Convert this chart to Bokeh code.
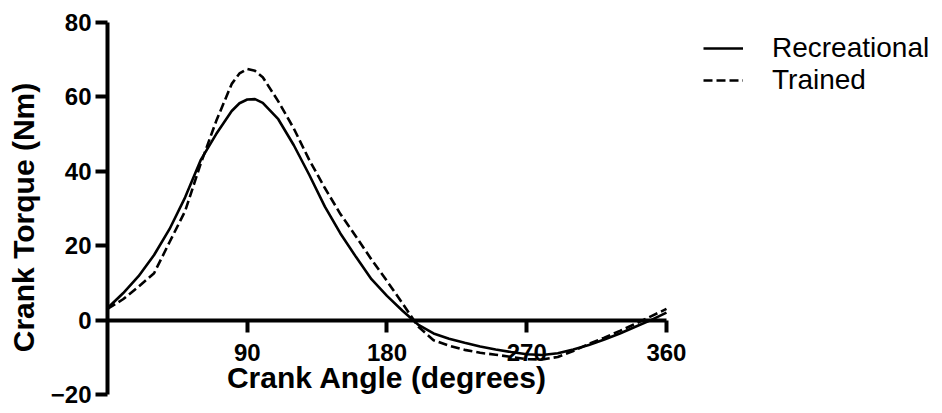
from bokeh.plotting import figure
from bokeh.models import FixedTicker, Legend, LegendItem, Range1d
from bokeh.embed import file_html
from bokeh.resources import INLINE

# ---- data ----
angle = [0, 10, 20, 30, 40, 50, 60, 70, 80, 85, 90, 95, 100, 110, 120, 130, 140, 150, 160, 170, 180,
         190, 200, 210, 220, 230, 240, 250, 260, 270, 280, 290, 300, 310, 320, 330, 340, 350, 360]
recreational = [3.2, 7.2, 11.8, 17.5, 24.5, 33.0, 43.0, 50.0, 56.2, 58.3, 59.3, 59.4, 58.4, 54.0, 47.0, 39.0,
                30.5, 23.3, 17.0, 11.0, 6.5, 2.5, -1.2, -3.6, -5.0, -6.1, -7.1, -7.9, -8.6, -9.2,
                -9.4, -8.9, -7.9, -6.7, -5.2, -3.6, -1.8, 0.0, 2.0]
trained = [3.0, 5.6, 9.0, 12.6, 21.0, 29.3, 42.0, 53.5, 63.5, 66.3, 67.5, 67.0, 65.3, 58.8, 51.5, 43.0,
           35.5, 28.5, 22.5, 16.3, 10.5, 4.5, -1.7, -5.4, -6.9, -8.0, -8.8, -9.3, -9.9, -10.5,
           -10.6, -9.9, -8.3, -6.4, -4.7, -2.9, -1.0, 1.0, 3.0]

x_ticks = [90, 180, 270, 360]
y_ticks = [-20, 0, 20, 40, 60, 80]
series_labels = ["Recreational", "Trained"]
x_title = "Crank Angle (degrees)"
y_title = "Crank Torque (Nm)"

FONT = "Liberation Sans"

p = figure(width=940, height=412, output_backend="svg", toolbar_location=None,
           x_range=Range1d(0, 536.5), y_range=Range1d(-24.84, 80),
           min_border_left=107, min_border_right=0, min_border_top=22, min_border_bottom=0)
p.grid.visible = False
p.outline_line_color = None
p.background_fill_color = "white"

r1 = p.line(angle, recreational, line_color="black", line_width=2.6)
r2 = p.line(angle, trained, line_color="black", line_width=2.6, line_dash="9 4")

# x axis crossing at y = 0
xa = p.xaxis[0]
xa.fixed_location = 0
xa.bounds = (0, 360)
xa.ticker = FixedTicker(ticks=x_ticks)
xa.axis_line_width = 4
xa.major_tick_line_width = 4
xa.major_tick_out = 12
xa.major_tick_in = 0
xa.minor_tick_line_color = None
xa.major_label_standoff = 12
xa.major_label_text_font = FONT
xa.major_label_text_font_style = "bold"
xa.major_label_text_font_size = "24px"
xa.major_label_text_color = "black"
xa.axis_label = x_title
xa.axis_label_text_font = FONT
xa.axis_label_text_font_style = "bold"
xa.axis_label_text_font_size = "30px"
xa.axis_label_text_color = "black"
xa.axis_label_standoff = -4

ya = p.yaxis[0]
ya.bounds = (-20, 80)
ya.ticker = FixedTicker(ticks=y_ticks)
ya.axis_line_width = 4
ya.major_tick_line_width = 4
ya.major_tick_out = 12
ya.major_tick_in = 0
ya.minor_tick_line_color = None
ya.major_label_standoff = 4
ya.major_label_text_font = FONT
ya.major_label_text_font_style = "bold"
ya.major_label_text_font_size = "24px"
ya.major_label_text_color = "black"
ya.axis_label = y_title
ya.axis_label_text_font = FONT
ya.axis_label_text_font_style = "bold"
ya.axis_label_text_font_size = "30px"
ya.axis_label_text_color = "black"
ya.axis_label_standoff = 8

legend = Legend(items=[LegendItem(label=series_labels[0], renderers=[r1]),
                       LegendItem(label=series_labels[1], renderers=[r2])],
                location=(596, 316), border_line_color=None, background_fill_alpha=0,
                padding=0, margin=0, spacing=-3, glyph_width=40, glyph_height=28,
                label_height=28, label_standoff=29, label_text_font=FONT,
                label_text_font_size="28px", label_text_color="black")
p.add_layout(legend)

open("out.html", "w").write(file_html(p, INLINE))
